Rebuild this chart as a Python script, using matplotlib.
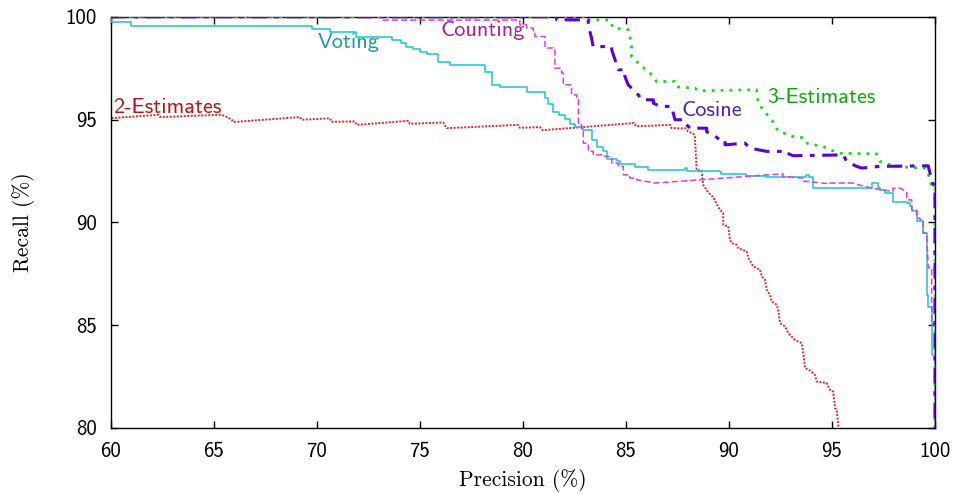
import matplotlib
matplotlib.use("Agg")
import matplotlib.pyplot as plt

# --- Curve data (precision %, recall %) ---
voting_p = [60.0, 60.0, 60.96, 60.96, 69.76, 69.76, 70.63, 70.63, 71.89, 71.89,
            73.63, 73.63, 74.10, 74.10, 74.34, 74.34, 74.66, 74.66, 75.0, 75.0,
            75.32, 75.32, 75.86, 75.86, 76.46, 76.46, 78.16, 78.16, 78.48, 78.48,
            78.88, 78.88, 80.18, 80.18, 81.07, 81.07, 81.20, 81.20, 81.46, 81.46,
            81.75, 81.75, 82.04, 82.04, 82.28, 82.28, 82.52, 82.52, 82.90, 82.90,
            83.33, 83.33, 83.58, 83.58, 83.90, 83.90, 84.06, 84.06, 84.55, 84.55,
            84.71, 84.71, 85.44, 85.44, 86.08, 86.08, 87.86, 87.86, 87.94, 87.94,
            89.56, 89.56, 89.60, 89.60, 90.84, 90.84, 91.79, 91.79, 93.74, 93.74,
            93.90, 93.90, 94.06, 94.06, 96.94, 96.94, 97.24, 97.24, 97.33, 97.33,
            97.57, 97.57, 97.96, 97.96, 98.62, 98.62, 98.79, 98.79, 98.87, 98.87,
            99.11, 99.11, 99.43, 99.43, 99.60, 99.60, 99.67, 99.67, 99.84, 99.84,
            100.0, 100.0]
voting_r = [100.0, 99.77, 99.77, 99.56, 99.56, 99.42, 99.42, 99.26, 99.26, 99.04,
            99.04, 98.86, 98.86, 98.72, 98.72, 98.55, 98.55, 98.43, 98.43, 98.28,
            98.28, 98.18, 98.18, 97.82, 97.82, 97.66, 97.66, 97.33, 97.33, 96.69,
            96.69, 96.56, 96.56, 96.34, 96.34, 96.04, 96.04, 95.77, 95.77, 95.39,
            95.39, 95.23, 95.23, 95.02, 95.02, 94.80, 94.80, 94.66, 94.66, 94.50,
            94.50, 94.01, 94.01, 93.66, 93.66, 93.49, 93.49, 93.09, 93.09, 92.96,
            92.96, 92.83, 92.83, 92.71, 92.71, 92.55, 92.55, 92.64, 92.64, 92.49,
            92.49, 92.44, 92.44, 92.36, 92.36, 92.23, 92.23, 92.20, 92.20, 92.29,
            92.29, 92.20, 92.20, 91.66, 91.66, 91.91, 91.91, 91.66, 91.66, 91.58,
            91.58, 91.42, 91.42, 91.01, 91.01, 90.93, 90.93, 90.77, 90.77, 90.53,
            90.53, 90.04, 90.04, 89.47, 89.47, 86.47, 86.47, 85.90, 85.90, 83.55,
            83.55, 80.0]

counting_p = [60.0, 73.19, 73.19, 79.85, 79.85, 80.18, 80.18, 80.50, 80.50, 80.58,
              80.58, 81.07, 81.07, 81.47, 81.47, 81.55, 81.55, 81.88, 81.88, 81.96,
              81.96, 82.36, 82.36, 82.61, 82.61, 82.69, 82.69, 82.85, 82.85, 82.93,
              82.93, 83.17, 83.17, 83.41, 83.41, 83.98, 83.98, 84.31, 84.31, 84.63,
              84.63, 84.87, 84.87, 85.19, 85.19, 85.52, 85.52, 86.41, 92.62, 92.62,
              92.72, 93.59, 93.59, 93.77, 94.90, 94.90, 95.96, 96.93, 96.93, 97.96,
              97.96, 98.30, 98.63, 98.63, 98.87, 98.87, 99.11, 99.11, 99.27, 99.27,
              99.43, 99.43, 99.60, 99.60, 99.67, 99.67, 99.84, 99.84, 100.0, 100.0]
counting_r = [100.0, 100.0, 99.84, 99.84, 99.61, 99.61, 99.45, 99.45, 99.21, 99.21,
              99.04, 99.04, 98.48, 98.48, 98.39, 98.39, 97.50, 97.50, 97.26, 97.26,
              96.69, 96.69, 96.20, 96.20, 95.96, 95.96, 94.74, 94.74, 94.50, 94.50,
              93.85, 93.85, 93.45, 93.45, 93.28, 93.28, 93.20, 93.20, 92.88, 92.88,
              92.72, 92.72, 92.31, 92.31, 92.15, 92.15, 92.07, 91.91, 92.36, 92.23,
              92.23, 92.15, 91.99, 91.99, 91.87, 91.91, 91.91, 91.66, 91.66, 91.50,
              91.66, 91.66, 91.48, 91.09, 91.09, 90.61, 90.61, 90.20, 90.20, 90.12,
              90.12, 89.47, 89.47, 89.39, 87.85, 87.79, 87.79, 85.01, 85.01, 80.0]

cosine_p = [60.0, 81.64, 81.64, 83.17, 83.17, 83.33, 83.41, 84.31, 84.31, 84.47,
            84.63, 84.95, 84.95, 85.11, 85.60, 85.76, 86.33, 86.33, 86.65, 87.22,
            87.22, 87.38, 87.78, 87.78, 88.11, 88.92, 88.92, 89.24, 89.56, 89.81,
            89.81, 90.78, 90.78, 91.02, 91.83, 92.80, 92.80, 93.12, 95.55, 95.55,
            95.71, 96.20, 96.44, 97.33, 99.67, 99.67, 99.76, 99.92, 100.0, 100.0]
cosine_r = [100.0, 100.0, 99.85, 99.85, 99.61, 98.96, 98.55, 98.55, 98.39, 97.91,
            97.42, 97.42, 97.09, 96.69, 96.20, 95.96, 95.96, 95.80, 95.64, 95.64,
            95.61, 94.99, 94.99, 94.91, 94.58, 94.58, 94.40, 94.26, 94.01, 94.01,
            93.77, 93.85, 93.85, 93.61, 93.45, 93.45, 93.37, 93.24, 93.28, 93.28,
            92.96, 92.72, 92.64, 92.72, 92.75, 92.75, 92.39, 91.82, 91.82, 80.0]

three_est_p = [60.0, 83.09, 83.09, 84.22, 84.38, 85.11, 85.27, 85.27, 85.68, 86.17,
               86.49, 87.38, 87.46, 88.35, 88.50, 91.34, 91.42, 91.59, 92.15, 92.38,
               93.08, 93.64, 93.83, 94.58, 94.90, 95.39, 97.17, 97.33, 97.82, 98.30,
               99.51, 99.67, 99.84, 100.0, 100.0]
three_est_r = [100.0, 100.0, 99.84, 99.84, 99.45, 99.37, 98.72, 98.07, 97.66, 97.26,
               96.85, 96.85, 96.59, 96.53, 96.40, 96.45, 95.86, 95.57, 94.87, 94.45,
               94.18, 94.11, 93.82, 93.69, 93.53, 93.36, 93.33, 92.96, 92.80, 92.70,
               92.64, 92.39, 91.74, 91.74, 80.0]

two_est_p = [60.03, 62.30, 62.38, 65.29, 65.53, 65.86, 65.94, 69.17, 69.26, 70.63,
             70.71, 71.84, 71.93, 74.43, 74.51, 76.13, 76.30, 79.77, 79.85, 80.83,
             80.95, 85.39, 85.49, 87.14, 87.22, 87.91, 88.02, 88.27, 88.35, 88.43,
             88.67, 88.75, 88.99, 89.24, 89.40, 89.56, 89.72, 89.72, 89.97, 90.05,
             90.13, 90.37, 90.45, 90.86, 90.94, 91.10, 91.18, 91.51, 91.59, 91.75,
             91.83, 91.99, 92.07, 92.32, 92.39, 92.48, 92.72, 92.88, 93.20, 93.53,
             93.61, 93.69, 93.93, 94.17, 94.26, 94.74, 94.90, 95.06, 95.15, 95.23,
             95.31]
two_est_r = [95.07, 95.23, 95.12, 95.23, 95.18, 94.99, 94.88, 95.12, 94.99, 95.06,
             94.89, 94.91, 94.74, 94.94, 94.79, 94.86, 94.58, 94.74, 94.60, 94.63,
             94.48, 94.83, 94.67, 94.74, 94.58, 94.57, 94.42, 94.31, 94.16, 92.55,
             92.51, 91.82, 91.46, 91.22, 90.90, 90.61, 90.45, 89.88, 89.80, 89.15,
             88.99, 88.91, 88.74, 88.58, 88.26, 88.01, 87.85, 87.69, 87.36, 87.20,
             86.72, 86.47, 86.15, 85.99, 85.74, 85.09, 84.93, 84.61, 84.28, 84.12,
             83.64, 82.91, 82.79, 82.58, 82.25, 82.18, 81.85, 81.77, 80.96, 80.88,
             80.0]

x_ticks = [60, 65, 70, 75, 80, 85, 90, 95, 100]
y_ticks = [80, 85, 90, 95, 100]

SANS = "cmss10"
SERIF = "cmr10"

fig = plt.figure(figsize=(9.56, 4.94), dpi=100)
ax = fig.add_axes([0.116, 0.134, 0.862, 0.832])

ax.plot(two_est_p, two_est_r, color="#e02828", lw=1.4, ls=(0, (1, 0.8)), zorder=2)
ax.plot(voting_p, voting_r, color="#1fc3d0", lw=1.1, zorder=3)
ax.plot(counting_p, counting_r, color="#e03ce0", lw=1.1, ls=(0, (4, 2)), zorder=3)
ax.plot(three_est_p, three_est_r, color="#22d022", lw=2.0, ls=(0, (1, 2.2)),
        zorder=4)
ax.plot(cosine_p, cosine_r, color="#5a00d8", lw=2.2, ls=(0, (5, 2.5, 1.5, 2.5)),
        zorder=5)

# curve labels
lbl = dict(fontsize=16, family=SANS, va="center", ha="left")
ax.text(70.05, 98.73, "Voting", color="#1a9aa8", **lbl)
ax.text(76.02, 99.32, "Counting", color="#a8209f", **lbl)
ax.text(87.72, 95.43, "Cosine", color="#5020b8", **lbl)
ax.text(91.84, 96.06, "3-Estimates", color="#12a812", **lbl)
ax.text(60.1, 95.57, "2-Estimates", color="#b01818", **lbl)

ax.set_xlim(60, 100)
ax.set_ylim(80, 100)
ax.set_xticks(x_ticks)
ax.set_yticks(y_ticks)
ax.tick_params(direction="in", length=5, width=1, top=True, right=True,
               labelsize=15)
ax.tick_params(axis="x", pad=10)
ax.tick_params(axis="y", pad=10)
for t in ax.get_xticklabels() + ax.get_yticklabels():
    t.set_family(SANS)
for s in ax.spines.values():
    s.set_linewidth(1.0)

ax.set_xlabel("Precision (%)", family=SERIF, fontsize=15.5, labelpad=6)
ax.set_ylabel("Recall (%)", family=SERIF, fontsize=15.5, labelpad=22)

fig.savefig("out.png", dpi=100)
